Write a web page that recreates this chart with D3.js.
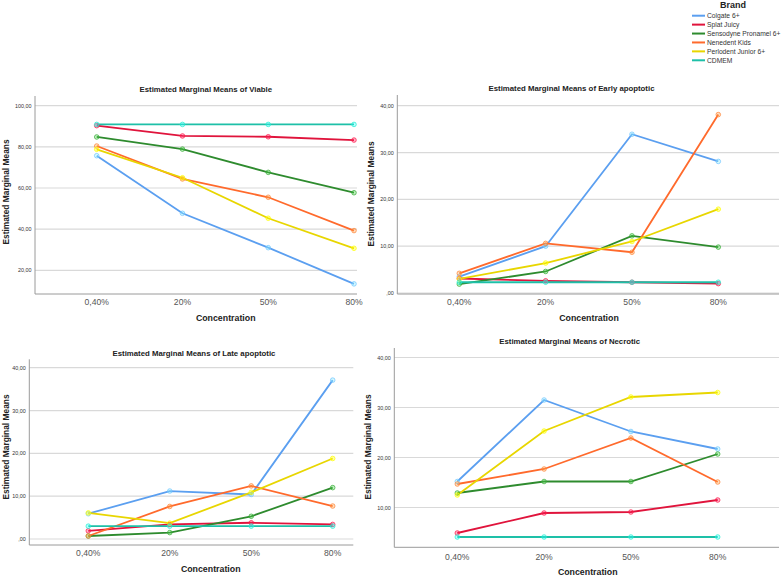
<!DOCTYPE html>
<html><head><meta charset="utf-8">
<script src="https://cdn.jsdelivr.net/npm/d3@7"></script>
<style>body{margin:0;background:#fff;}svg{display:block;font-family:Arial,"Liberation Sans",sans-serif;}</style>
</head><body><svg id="c" width="784" height="575"></svg>
<script>
const categories = ["0,40%", "20%", "50%", "80%"];
const brands = ["Colgate 6+", "Splat Juicy", "Sensodyne Pronamel 6+", "Nenedent Kids", "Perlodent Junior 6+", "CDMEM"];
const colors = ["#5b9ff0", "#e0143c", "#2e8b2e", "#ff6a2c", "#e8d600", "#1ec0a8"];

const viable = [
  [75.7, 47.7, 31.0, 13.4],
  [90.3, 85.3, 84.9, 83.3],
  [84.8, 78.9, 67.6, 57.7],
  [80.4, 64.4, 55.5, 39.3],
  [78.8, 65.0, 45.3, 30.7],
  [90.9, 90.9, 90.9, 90.9]
];
const earlyApoptotic = [
  [3.5, 10.0, 33.9, 28.1],
  [3.1, 2.6, 2.3, 2.0],
  [1.9, 4.6, 12.2, 9.8],
  [4.2, 10.6, 8.7, 38.1],
  [3.0, 6.4, 11.0, 17.9],
  [2.3, 2.3, 2.3, 2.3]
];
const lateApoptotic = [
  [5.9, 11.2, 10.4, 37.1],
  [1.9, 3.4, 3.8, 3.4],
  [0.7, 1.5, 5.3, 12.0],
  [0.7, 7.6, 12.4, 7.7],
  [6.1, 3.7, 10.9, 18.8],
  [3.0, 3.0, 3.0, 3.0]
];
const necrotic = [
  [15.2, 31.5, 25.2, 21.7],
  [4.9, 8.9, 9.1, 11.5],
  [12.9, 15.2, 15.2, 20.7],
  [14.7, 17.7, 23.9, 15.1],
  [12.5, 25.3, 32.1, 33.0],
  [4.1, 4.1, 4.1, 4.1]
];
const ticksViable = [20, 40, 60, 80, 100];
const ticksEarly = [0, 10, 20, 30, 40];
const ticksLate = [0, 10, 20, 30, 40];
const ticksNecrotic = [10, 20, 30, 40];

const panels = [
  {title:"Estimated Marginal Means of Viable", data:viable, ticks:ticksViable,
   ax:35, axEnd:357, top:96, bottom:294, x0:96.7, x3:354, yDom:[20,100], yRng:[270.3,105.7],
   titleX:205.8, titleY:92, xtY:305, xTitleX:225.7, xTitleY:321, yTitleX:8.5, yTitleY:192},
  {title:"Estimated Marginal Means of Early apoptotic", data:earlyApoptotic, ticks:ticksEarly,
   ax:397.3, axEnd:779, top:95, bottom:294, x0:459.3, x3:718.3, yDom:[0,40], yRng:[293,105.7],
   titleX:571.5, titleY:91, xtY:305, xTitleX:589, xTitleY:321, yTitleX:373.5, yTitleY:194},
  {title:"Estimated Marginal Means of Late apoptotic", data:lateApoptotic, ticks:ticksLate,
   ax:29.3, axEnd:353.3, top:359.3, bottom:545, x0:88.3, x3:332.7, yDom:[0,40], yRng:[539,367.7],
   titleX:194, titleY:355.5, xtY:556, xTitleX:210.7, xTitleY:572, yTitleX:8.5, yTitleY:447},
  {title:"Estimated Marginal Means of Necrotic", data:necrotic, ticks:ticksNecrotic,
   ax:394.3, axEnd:779, top:348, bottom:547.3, x0:457.3, x3:717.7, yDom:[10,40], yRng:[507.5,357.5],
   titleX:569.7, titleY:344, xtY:560, xTitleX:587.7, xTitleY:574.5, yTitleX:371, yTitleY:447}
];

const svg = d3.select("#c");
const fmt = v => { const s = v.toFixed(2).replace(".", ","); return s.startsWith("0,") ? s.slice(1) : s; };

panels.forEach(p => {
  const g = svg.append("g");
  const x = d3.scalePoint().domain(categories).range([p.x0, p.x3]);
  const y = d3.scaleLinear().domain(p.yDom).range(p.yRng);

  g.selectAll("line.grid").data(p.ticks).join("line")
    .attr("x1", p.ax).attr("x2", p.axEnd)
    .attr("y1", d => y(d)).attr("y2", d => y(d))
    .attr("stroke", "#d9d9d9").attr("stroke-width", 1.2);

  g.selectAll("text.yt").data(p.ticks).join("text")
    .attr("x", p.ax - 3.5).attr("y", d => y(d) + 2)
    .attr("text-anchor", "end").attr("font-size", 5.4).attr("fill", "#333")
    .text(fmt);

  g.append("line").attr("x1", p.ax).attr("x2", p.ax).attr("y1", p.top).attr("y2", p.bottom)
    .attr("stroke", "#9a9a9a").attr("stroke-width", 1);
  g.append("line").attr("x1", p.ax).attr("x2", p.axEnd).attr("y1", p.bottom).attr("y2", p.bottom)
    .attr("stroke", "#9a9a9a").attr("stroke-width", 1);

  g.selectAll("text.xt").data(categories).join("text")
    .attr("x", d => x(d)).attr("y", p.xtY)
    .attr("text-anchor", "middle").attr("font-size", 8.6).attr("fill", "#555")
    .text(d => d);

  g.append("text").attr("x", p.titleX).attr("y", p.titleY).attr("text-anchor", "middle")
    .attr("font-size", 7.8).attr("font-weight", "bold").attr("fill", "#222").text(p.title);
  g.append("text").attr("x", p.xTitleX).attr("y", p.xTitleY).attr("text-anchor", "middle")
    .attr("font-size", 8.8).attr("font-weight", "bold").attr("fill", "#222").text("Concentration");
  g.append("text").attr("transform", `translate(${p.yTitleX},${p.yTitleY}) rotate(-90)`)
    .attr("text-anchor", "middle").attr("font-size", 8.4).attr("font-weight", "bold").attr("fill", "#222")
    .text("Estimated Marginal Means");

  const line = d3.line().x((d, i) => x(categories[i])).y(d => y(d));
  p.data.forEach((series, si) => {
    g.append("path").attr("d", line(series)).attr("fill", "none")
      .attr("stroke", colors[si]).attr("stroke-width", 1.8);
  });
  p.data.forEach((series, si) => {
    g.selectAll(null).data(series).join("circle")
      .attr("cx", (d, i) => x(categories[i])).attr("cy", d => y(d)).attr("r", 2.3)
      .attr("fill", d3.color(colors[si]).brighter(1.2)).attr("fill-opacity", 0.35)
      .attr("stroke", d3.color(colors[si]).brighter(0.6)).attr("stroke-width", 0.9).attr("stroke-opacity", 0.8);
  });
});

const lg = svg.append("g");
lg.append("text").attr("x", 733).attr("y", 8).attr("text-anchor", "middle")
  .attr("font-size", 9).attr("font-weight", "bold").attr("fill", "#222").text("Brand");
const ly = d3.scalePoint().domain(brands).range([15.7, 60.3]);
lg.selectAll("line").data(brands).join("line")
  .attr("x1", 692).attr("x2", 705).attr("y1", d => ly(d)).attr("y2", d => ly(d))
  .attr("stroke", (d, i) => colors[i]).attr("stroke-width", 2);
lg.selectAll("text.li").data(brands).join("text")
  .attr("x", 707).attr("y", d => ly(d) + 2.4).attr("font-size", 6.7).attr("fill", "#333")
  .text(d => d);
</script></body></html>
